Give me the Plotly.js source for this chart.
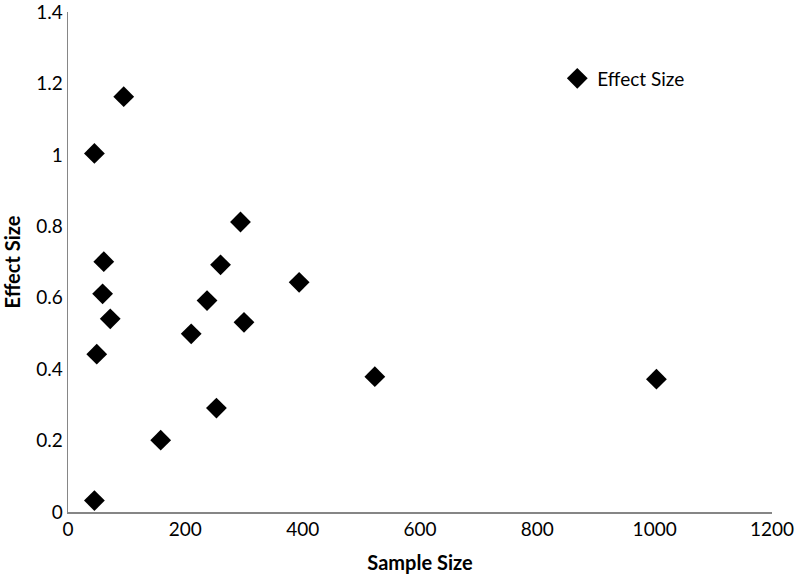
<!DOCTYPE html>
<html>
<head>
<meta charset="utf-8">
<script src="https://cdn.plot.ly/plotly-3.0.1.min.js"></script>
<style>html,body{margin:0;padding:0;background:#fff;}#chart{width:796px;height:576px;}</style>
</head>
<body>
<div id="chart"></div>
<script>
const seriesName = "Effect Size";
const sampleSize = [95, 45, 294, 61, 260, 394, 59, 72, 49, 45, 158, 210, 237, 253, 300, 523, 1003];
const effectSize = [1.163, 1.004, 0.812, 0.701, 0.692, 0.643, 0.611, 0.541, 0.442, 0.032, 0.201, 0.499, 0.592, 0.291, 0.531, 0.379, 0.372];
const xTicks = [0, 200, 400, 600, 800, 1000, 1200];
const yTicks = [0, 0.2, 0.4, 0.6, 0.8, 1, 1.2, 1.4];
const yTickLabels = ["0", "0.2", "0.4", "0.6", "0.8", "1", "1.2", "1.4"];

const font = "Lato, 'Open Sans', sans-serif";
const trace = {
  x: sampleSize, y: effectSize, type: "scatter", mode: "markers", name: seriesName,
  marker: {symbol: "diamond", size: 16, color: "#000000", line: {width: 0}}
};
const layout = {
  width: 796, height: 576,
  margin: {l: 68, r: 24, t: 12, b: 64},
  paper_bgcolor: "#ffffff", plot_bgcolor: "#ffffff",
  font: {family: font, size: 19, color: "#000000"},
  showlegend: true,
  legend: {x: 0.695, y: 0.867, xanchor: "left", yanchor: "middle", font: {family: font, size: 19, color: "#000"}, bgcolor: "rgba(0,0,0,0)"},
  xaxis: {
    range: [0, 1200], tickvals: xTicks, ticktext: xTicks.map(String),
    showgrid: false, zeroline: false, showline: true, linecolor: "#868686", linewidth: 1.5,
    ticks: "", ticklen: 0, tickfont: {family: font, size: 19},
    title: {text: "<b>Sample Size</b>", font: {family: font, size: 20}, standoff: 16}
  },
  yaxis: {
    range: [0, 1.4], tickvals: yTicks, ticktext: yTickLabels, ticklabeloverflow: "allow",
    showgrid: false, zeroline: false, showline: true, linecolor: "#868686", linewidth: 1.5,
    ticks: "", ticklen: 0, tickfont: {family: font, size: 19},
    title: {text: "<b>Effect Size</b>", font: {family: font, size: 20}, standoff: 11}
  }
};
Plotly.newPlot("chart", [trace], layout, {displayModeBar: false, staticPlot: true});
</script>
</body>
</html>
